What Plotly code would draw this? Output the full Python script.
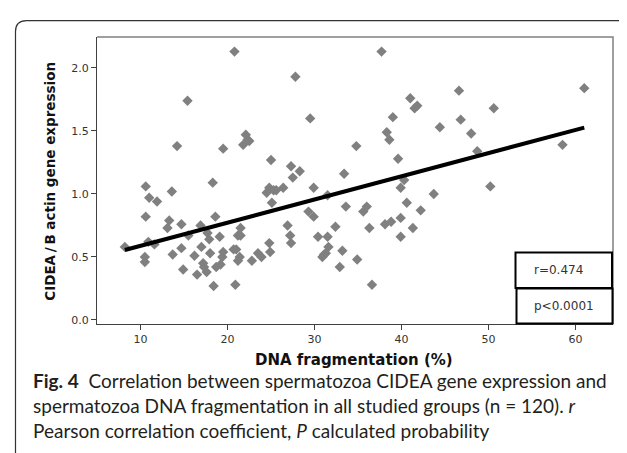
import plotly.graph_objects as go

# ---- data ----
dna_frag = [8.2,10.5,10.5,10.6,10.6,11.0,10.9,11.6,11.9,13.1,
            13.3,13.6,13.7,14.2,14.7,14.7,14.9,15.4,15.5,16.2,
            16.5,16.9,17.0,17.2,17.3,17.6,17.7,17.9,18.0,18.3,
            18.4,18.6,18.7,19.1,19.2,19.4,19.5,19.5,20.8,20.9,
            20.7,21.0,21.2,21.2,21.4,21.5,21.5,21.8,22.1,22.3,
            22.5,22.8,23.5,23.9,24.5,24.8,24.9,24.8,25.0,25.1,
            25.3,25.6,26.4,26.9,27.2,27.3,27.3,27.5,27.8,28.3,
            29.3,29.5,29.9,29.9,30.4,30.9,31.1,31.3,31.5,31.6,
            31.5,32.4,32.9,33.2,33.4,33.6,34.8,34.9,35.6,36.0,
            36.3,36.6,37.7,38.1,38.3,38.6,38.8,39.0,39.6,39.9,
            39.9,39.9,40.3,40.6,41.0,41.3,41.5,41.8,42.2,43.7,
            44.4,46.6,46.8,48.0,48.7,50.2,50.6,58.5,61.0]
cidea_expr = [0.58,0.50,0.46,1.06,0.82,0.97,0.62,0.60,0.94,0.73,
              0.79,1.02,0.52,1.38,0.76,0.57,0.40,1.74,0.67,0.51,
              0.36,0.75,0.58,0.45,0.42,0.38,0.69,0.64,0.53,1.09,
              0.27,0.82,0.42,0.66,0.44,0.50,1.36,0.54,2.13,0.28,
              0.56,0.56,0.67,0.47,0.50,0.73,0.67,1.39,1.47,1.43,
              1.42,0.47,0.53,0.50,1.01,0.61,0.54,1.05,1.27,0.93,
              1.03,1.03,1.05,0.75,0.67,0.61,1.22,1.13,1.93,1.18,
              0.86,1.60,1.05,0.82,0.66,0.50,0.52,0.53,0.66,0.58,
              0.99,0.74,0.42,0.55,1.16,0.90,1.38,0.48,0.86,0.90,
              0.73,0.28,2.13,0.76,1.49,1.43,0.78,1.61,1.28,1.05,
              0.81,0.66,1.11,0.93,1.76,0.73,1.68,1.70,0.87,1.00,
              1.53,1.82,1.59,1.48,1.34,1.06,1.68,1.39,1.84]
fit_x = [8.2, 61.0]
fit_y = [0.555, 1.527]
x_ticks = [10, 20, 30, 40, 50, 60]
y_ticks = [0.0, 0.5, 1.0, 1.5, 2.0]
stat_labels = ["r=0.474", "p<0.0001"]

# ---- geometry (pixels) ----
W, H = 627, 453
L, R, T, B = 89, 605, 29, 316.5
PW, PH = R - L, B - T


def px(xp):
    return (xp - L) / PW


def py(yp):
    return (B - yp) / PH


fig = go.Figure()
fig.add_trace(go.Scatter(x=dna_frag, y=cidea_expr, mode="markers",
                         marker=dict(symbol="diamond", size=8, color="#808080",
                                     line=dict(width=0)),
                         hoverinfo="x+y", showlegend=False))
fig.add_trace(go.Scatter(x=fit_x, y=fit_y, mode="lines",
                         line=dict(color="black", width=4), showlegend=False))

axis_font = dict(family="DejaVu Sans", size=11, color="#333333")
fig.update_xaxes(range=[5.0, 64.3], tickvals=x_ticks, ticks="outside", ticklen=5,
                 tickcolor="#404040", showline=True, linecolor="#404040", linewidth=1,
                 showgrid=False, zeroline=False, tickfont=axis_font)
fig.update_yaxes(range=[-0.032, 2.246], tickvals=y_ticks, tickformat=".1f",
                 ticks="outside", ticklen=5, tickcolor="#404040", showline=True,
                 linecolor="#404040", linewidth=1, showgrid=False, zeroline=False,
                 tickfont=axis_font)

shapes = []
# frame top/right (gray)
shapes.append(dict(type="path", xref="paper", yref="paper",
                   path="M 0,1 L 1,1 L 1,0", line=dict(color="#808080", width=1.5)))
# stats boxes
boxes = [(507.5, 245, 604, 280.5), (508.5, 281, 604.5, 316)]
for (x0, y0, x1, y1) in boxes:
    shapes.append(dict(type="rect", xref="paper", yref="paper",
                       x0=px(x0), x1=px(x1), y0=py(y1), y1=py(y0),
                       line=dict(color="black", width=2), fillcolor="white", layer="above"))
# rounded card border
cl, ct, cr, cb, rad = 7.5, 12.5, 626.5, 456, 11


def pt(a, b):
    return f"{px(a):.5f},{py(b):.5f}"


card = (f"M {pt(cl, cb)} L {pt(cl, ct + rad)} Q {pt(cl, ct)} {pt(cl + rad, ct)} "
        f"L {pt(cr - rad, ct)} Q {pt(cr, ct)} {pt(cr, ct + rad)} L {pt(cr, cb)}")
shapes.append(dict(type="path", xref="paper", yref="paper", path=card,
                   line=dict(color="#333333", width=1.2)))

ann = []
for lab, (x0, y0, x1, y1) in zip(stat_labels, boxes):
    ann.append(dict(text=lab, xref="paper", yref="paper", x=px(524), y=py((y0 + y1) / 2),
                    xanchor="left", yanchor="middle", showarrow=False,
                    font=dict(family="DejaVu Sans", size=12, color="#333333")))
# axis titles
ann.append(dict(text="<b>CIDEA\u2009/\u2009B actin gene expression</b>", xref="paper", yref="paper",
                x=px(42), y=py(174), textangle=-90, showarrow=False,
                xanchor="center", yanchor="middle",
                font=dict(family="DejaVu Sans", size=13.5, color="#111111")))
ann.append(dict(text="<b>DNA fragmentation (%)</b>", xref="paper", yref="paper",
                x=px(346), y=py(353), showarrow=False, xanchor="center", yanchor="middle",
                font=dict(family="DejaVu Sans", size=15, color="#111111")))
# caption
cap_font = dict(family="Lato, Noto Sans", size=19, color="#231f20")
cap_lines = ["<b>Fig. 4</b>  Correlation between spermatozoa CIDEA gene expression and",
             "spermatozoa DNA fragmentation in all studied groups (n = 120). <i>r</i>",
             "Pearson correlation coefficient, <i>P</i> calculated probability"]
for line, yc in zip(cap_lines, [373, 398.5, 423.5]):
    ann.append(dict(text=line, xref="paper", yref="paper", x=px(23), y=py(yc),
                    xanchor="left", yanchor="middle", showarrow=False, font=cap_font))

fig.update_layout(width=W, height=H, margin=dict(l=L, r=W - R, t=T, b=H - B),
                  plot_bgcolor="white", paper_bgcolor="white",
                  shapes=shapes, annotations=ann)

fig.write_html("out.html")
